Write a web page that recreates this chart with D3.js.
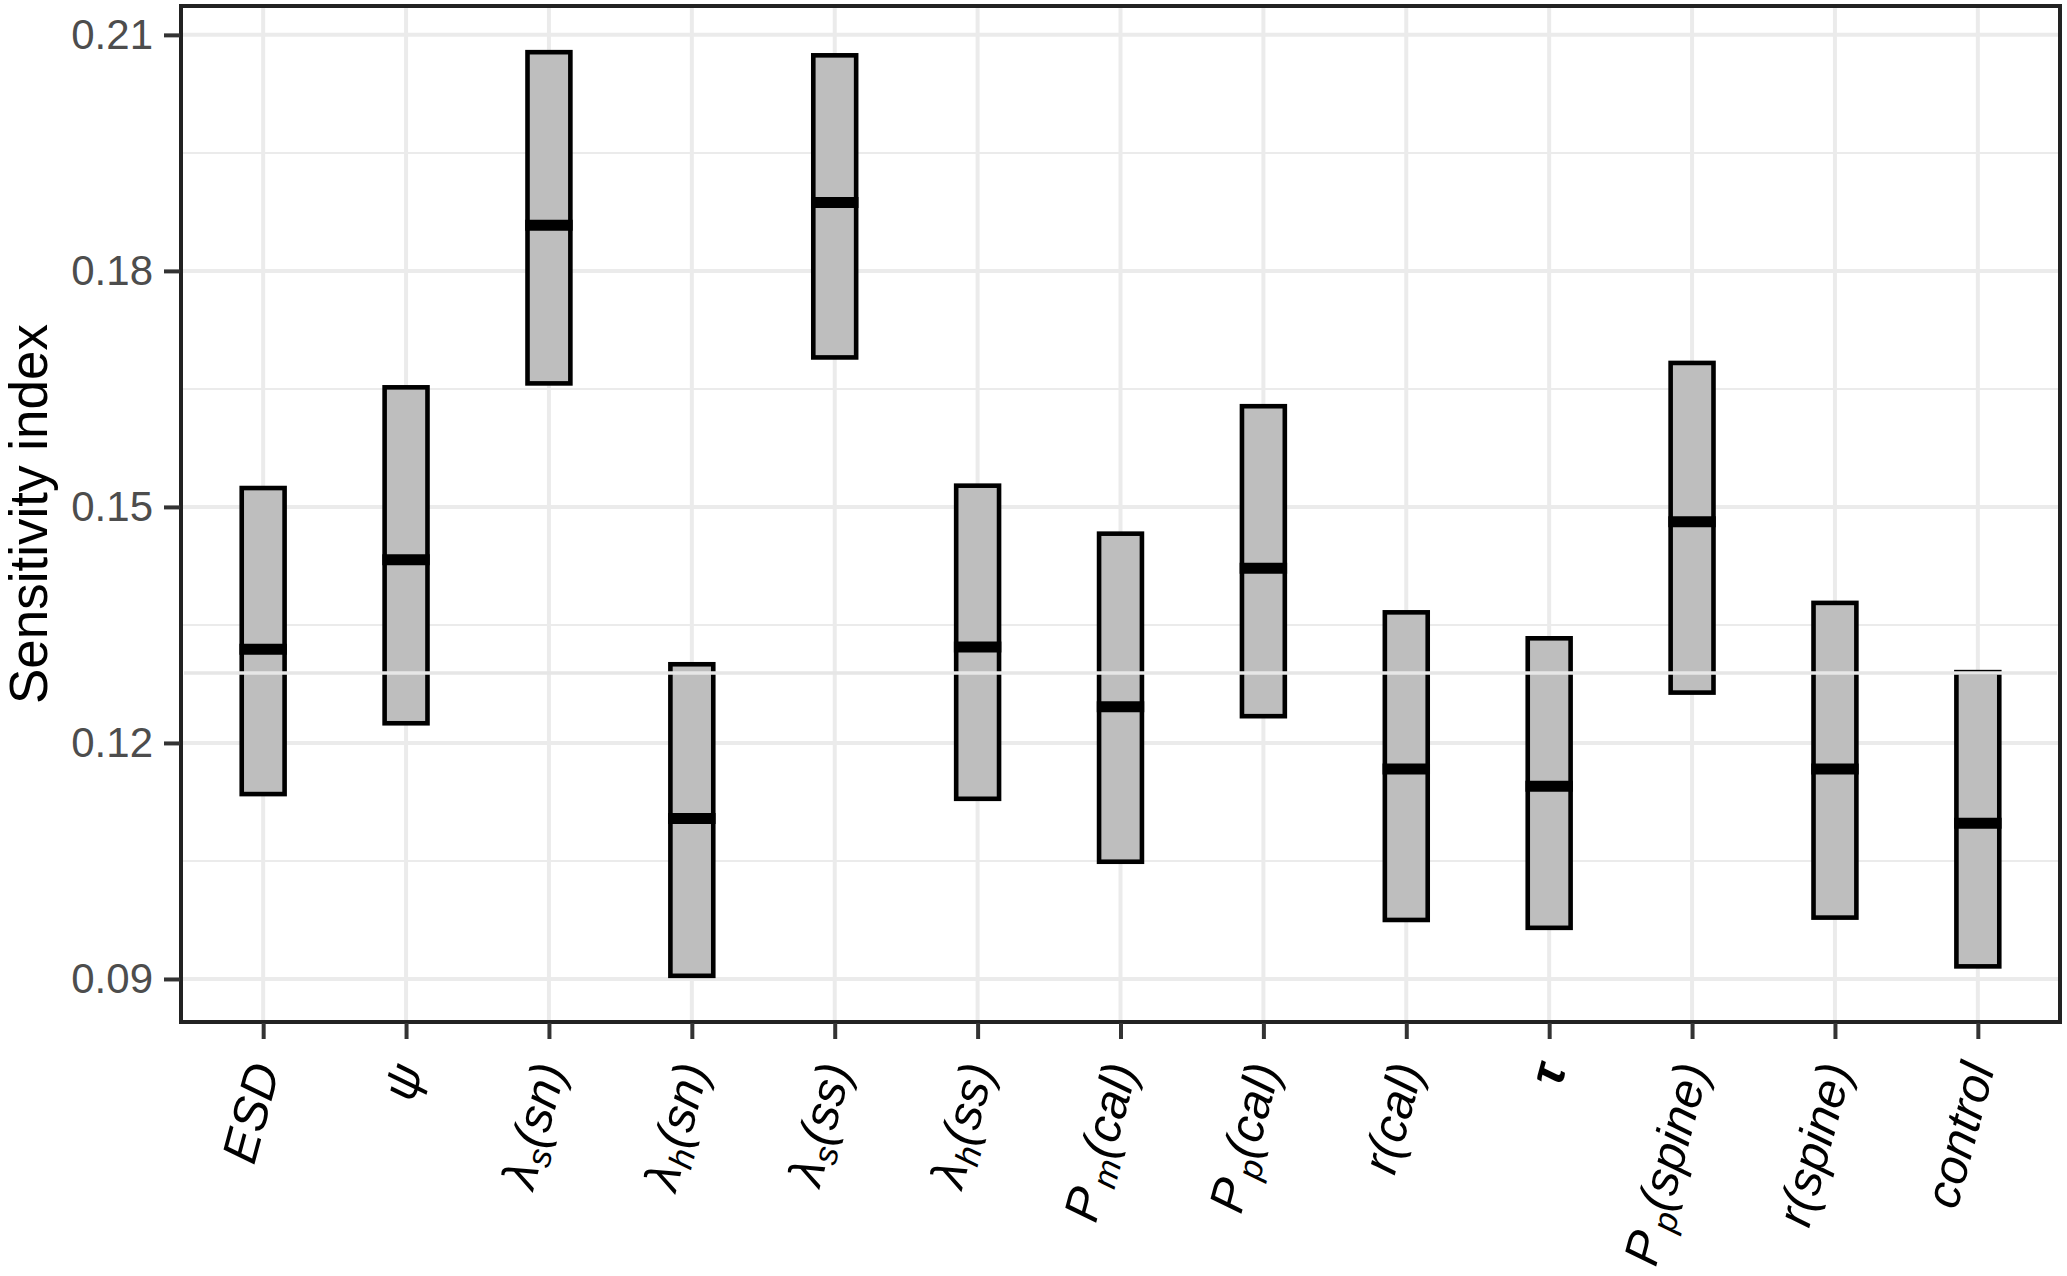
<!DOCTYPE html>
<html>
<head>
<meta charset="utf-8">
<script src="https://cdn.jsdelivr.net/npm/d3@7"></script>
<style>
  html, body { margin: 0; padding: 0; background: #ffffff; }
  svg { display: block; }
</style>
</head>
<body>
<svg id="chart" width="2067" height="1276"></svg>
<script>
// ---------------- data ----------------
const categories = ["ESD", "psi", "lambda_s(sn)", "lambda_h(sn)", "lambda_s(ss)", "lambda_h(ss)",
  "P_m(cal)", "P_p(cal)", "r(cal)", "tau", "P_p(spine)", "r(spine)", "control"];
// label pieces: main text, subscript, rest
const labelMain = ["ESD", "ψ", "λ", "λ", "λ", "λ", "P", "P", "r(cal)", "τ", "P", "r(spine)", "control"];
const labelSub  = ["", "", "s", "h", "s", "h", "m", "p", "", "", "p", "", ""];
const labelRest = ["", "", "(sn)", "(sn)", "(ss)", "(ss)", "(cal)", "(cal)", "", "", "(spine)", "", ""];
const labelBold = [false, false, false, false, false, false, false, false, false, true, false, false, false];

const lowerValues  = [0.1135, 0.1225, 0.1657, 0.0904, 0.1690, 0.1129, 0.1049, 0.1234, 0.0975, 0.0965, 0.1264, 0.0978, 0.0916];
const medianValues = [0.1319, 0.1433, 0.1858, 0.1104, 0.1887, 0.1322, 0.1246, 0.1422, 0.1167, 0.1145, 0.1481, 0.1167, 0.1098];
const upperValues  = [0.1524, 0.1652, 0.2078, 0.1300, 0.2074, 0.1527, 0.1466, 0.1628, 0.1366, 0.1333, 0.1683, 0.1378, 0.1290];

const yTicks = [0.09, 0.12, 0.15, 0.18, 0.21];
const yTickLabels = ["0.09", "0.12", "0.15", "0.18", "0.21"];
const yMinorTicks = [0.105, 0.135, 0.165, 0.195];
const yTitle = "Sensitivity index";
// faint horizontal scan line present in the source image
const scanLineValue = [0.1289];

// ---------------- layout ----------------
const panel = { left: 181, right: 2060, top: 6, bottom: 1022 };
const svg = d3.select("#chart");

const allVals = lowerValues.concat(upperValues);
const vmin = d3.min(allVals), vmax = d3.max(allVals);
const ext = (vmax - vmin) * 0.05;

const y = d3.scaleLinear().domain([vmin - ext, vmax + ext]).range([panel.bottom, panel.top]);
const x = d3.scalePoint().domain(categories).range([panel.left, panel.right]).padding(0.575);
const step = x.step();
const boxW = step * 0.3;

const data = categories.map((c, i) => ({
  c, lo: lowerValues[i], med: medianValues[i], hi: upperValues[i],
  main: labelMain[i], sub: labelSub[i], rest: labelRest[i], bold: labelBold[i]
}));

// panel background
svg.append("rect").attr("x", panel.left).attr("y", panel.top)
  .attr("width", panel.right - panel.left).attr("height", panel.bottom - panel.top)
  .attr("fill", "#ffffff");

const grid = svg.append("g");
grid.selectAll("line.minor").data(yMinorTicks).join("line")
  .attr("x1", panel.left).attr("x2", panel.right)
  .attr("y1", d => y(d)).attr("y2", d => y(d))
  .attr("stroke", "#ebebeb").attr("stroke-width", 2);
grid.selectAll("line.majory").data(yTicks).join("line")
  .attr("x1", panel.left).attr("x2", panel.right)
  .attr("y1", d => y(d)).attr("y2", d => y(d))
  .attr("stroke", "#ebebeb").attr("stroke-width", 4);
grid.selectAll("line.majorx").data(categories).join("line")
  .attr("x1", d => x(d)).attr("x2", d => x(d))
  .attr("y1", panel.top).attr("y2", panel.bottom)
  .attr("stroke", "#ebebeb").attr("stroke-width", 4);

// crossbars
const bars = svg.append("g");
bars.selectAll("rect.box").data(data).join("rect")
  .attr("x", d => x(d.c) - boxW / 2)
  .attr("width", boxW)
  .attr("y", d => y(d.hi))
  .attr("height", d => y(d.lo) - y(d.hi))
  .attr("fill", "#bebebe")
  .attr("stroke", "#000000")
  .attr("stroke-width", 4.6);
bars.selectAll("line.med").data(data).join("line")
  .attr("x1", d => x(d.c) - boxW / 2 - 2.3)
  .attr("x2", d => x(d.c) + boxW / 2 + 2.3)
  .attr("y1", d => y(d.med)).attr("y2", d => y(d.med))
  .attr("stroke", "#000000")
  .attr("stroke-width", 11);

// scan line artifact
svg.selectAll("line.scan").data(scanLineValue).join("line")
  .attr("x1", panel.left + 3).attr("x2", panel.right - 3)
  .attr("y1", d => y(d)).attr("y2", d => y(d))
  .attr("stroke", "#e6e6e6").attr("stroke-width", 3.5);

// panel border
svg.append("rect").attr("x", panel.left).attr("y", panel.top)
  .attr("width", panel.right - panel.left).attr("height", panel.bottom - panel.top)
  .attr("fill", "none").attr("stroke", "#222222").attr("stroke-width", 4);

// y axis
const yAxis = d3.axisLeft(y).tickValues(yTicks).tickFormat((d, i) => yTickLabels[i])
  .tickSize(16).tickPadding(11);
const yg = svg.append("g").attr("transform", `translate(${panel.left - 1},0)`).call(yAxis);
yg.select(".domain").remove();
yg.selectAll(".tick line").attr("stroke", "#333333").attr("stroke-width", 4);
yg.selectAll(".tick text").attr("fill", "#4d4d4d")
  .style("font-family", "'Liberation Sans', Arial, sans-serif").style("font-size", "42px");

// x axis ticks (labels drawn separately)
const xAxis = d3.axisBottom(x).tickSize(16).tickFormat("");
const xg = svg.append("g").attr("transform", `translate(0,${panel.bottom + 1})`).call(xAxis);
xg.select(".domain").remove();
xg.selectAll(".tick line").attr("stroke", "#333333").attr("stroke-width", 4);

// x labels (rotated, italic, with subscripts)
const fs = 49, subFs = 34, subShift = 9;
const labels = svg.append("g");
data.forEach(d => {
  const g = labels.append("g")
    .attr("transform", `translate(${x(d.c)},${panel.bottom + 42}) rotate(-75)`);
  const t = g.append("text")
    .attr("text-anchor", "end")
    .attr("y", fs * 0.36)
    .attr("fill", "#000000")
    .style("font-family", "'Liberation Sans', Arial, sans-serif")
    .style("font-style", "italic")
    .style("font-weight", d.bold ? "bold" : "normal")
    .style("font-size", fs + "px");
  t.append("tspan").text(d.main);
  if (d.sub) {
    t.append("tspan").attr("dx", d.main === "P" ? 5 : 1).attr("dy", subShift)
      .style("font-size", subFs + "px").text(d.sub);
    t.append("tspan").attr("dy", -subShift).style("font-size", fs + "px").text(d.rest);
  }
});

// y title
svg.append("text")
  .attr("transform", `translate(47,${(panel.top + panel.bottom) / 2}) rotate(-90)`)
  .attr("text-anchor", "middle")
  .attr("fill", "#000000")
  .style("font-family", "'Liberation Sans', Arial, sans-serif")
  .style("font-size", "53px")
  .text(yTitle);
</script>
</body>
</html>
